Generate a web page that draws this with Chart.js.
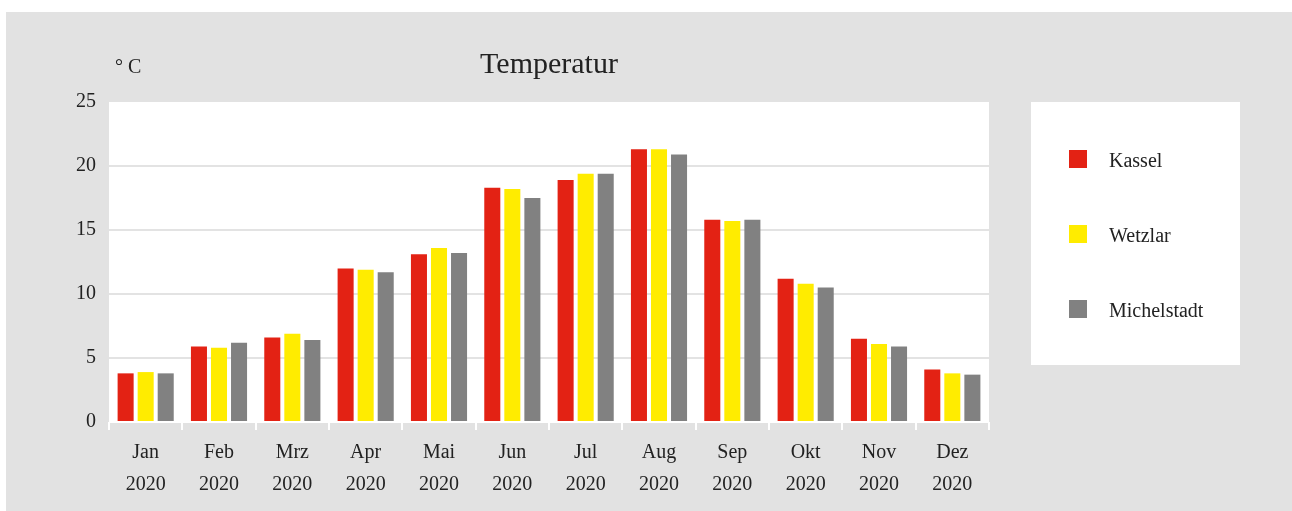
<!DOCTYPE html>
<html>
<head>
<meta charset="utf-8">
<script src="https://cdn.jsdelivr.net/npm/chart.js@4/dist/chart.umd.min.js"></script>
<style>
    body { margin: 0; background: #ffffff; }
    #frame { position: absolute; left: 6px; top: 12px; width: 1286px; height: 499px; background: #e2e2e2; }
</style>
</head>
<body>
<div id="frame"><canvas id="myChart" width="1286" height="499"></canvas></div>
<script>
// Month labels (two lines each)
const months = ['Jan', 'Feb', 'Mrz', 'Apr', 'Mai', 'Jun', 'Jul', 'Aug', 'Sep', 'Okt', 'Nov', 'Dez'];
const year = '2020';

// Monthly mean temperatures in °C
const kassel      = [3.8, 5.9, 6.6, 12.0, 13.1, 18.3, 18.9, 21.3, 15.8, 11.2, 6.5, 4.1];
const wetzlar     = [3.9, 5.8, 6.9, 11.9, 13.6, 18.2, 19.4, 21.3, 15.7, 10.8, 6.1, 3.8];
const michelstadt = [3.8, 6.2, 6.4, 11.7, 13.2, 17.5, 19.4, 20.9, 15.8, 10.5, 5.9, 3.7];

const yTicks = [0, 5, 10, 15, 20, 25];

const textColor = '#222222';
const fontFamily = '"Liberation Serif", "DejaVu Serif", serif';

// white plot background + unit label
const plotBackground = {
    id: 'plotBackground',
    beforeDraw(chart) {
        const { ctx, chartArea } = chart;
        ctx.save();
        ctx.fillStyle = '#ffffff';
        ctx.fillRect(chartArea.left, chartArea.top, chartArea.right - chartArea.left, chartArea.bottom - chartArea.top + 1);
        ctx.fillStyle = textColor;
        ctx.font = '20px ' + fontFamily;
        ctx.textBaseline = 'alphabetic';
        ctx.textAlign = 'left';
        ctx.fillText('° C', 109, 61);
        ctx.restore();
    }
};

// legend in a white box on the right
const boxLegend = {
    id: 'boxLegend',
    afterDraw(chart) {
        const { ctx } = chart;
        ctx.save();
        ctx.fillStyle = '#ffffff';
        ctx.fillRect(1025, 90, 209, 263);
        ctx.font = '20px ' + fontFamily;
        ctx.textBaseline = 'middle';
        ctx.textAlign = 'left';
        chart.data.datasets.forEach((ds, i) => {
            const cy = 147 + i * 75;
            ctx.fillStyle = ds.backgroundColor;
            ctx.fillRect(1063, cy - 9, 18, 18);
            ctx.fillStyle = textColor;
            ctx.fillText(ds.label, 1103, cy + 3);
        });
        ctx.restore();
    }
};

let ctx = document.getElementById('myChart').getContext('2d');

let chart = new Chart(ctx, {
    type: 'bar',
    data: {
        labels: months.map(m => [m, year]),
        datasets: [
            { label: 'Kassel', backgroundColor: 'rgb(227,34,20)', data: kassel },
            { label: 'Wetzlar', backgroundColor: 'rgb(255,236,0)', data: wetzlar },
            { label: 'Michelstadt', backgroundColor: 'rgb(129,129,129)', data: michelstadt }
        ]
    },
    options: {
        responsive: false,
        animation: false,
        devicePixelRatio: 1,
        layout: { padding: { top: 0, right: 303, bottom: 0, left: 0 } },
        datasets: {
            bar: { categoryPercentage: 0.82, barPercentage: 0.8 }
        },
        plugins: {
            legend: { display: false },
            tooltip: { enabled: false },
            title: {
                display: true,
                text: 'Temperatur',
                fullSize: false,
                color: textColor,
                font: { family: fontFamily, size: 30, weight: 'normal', lineHeight: 1.2 },
                padding: { top: 35, bottom: 19 }
            }
        },
        scales: {
            x: {
                grid: {
                    display: true,
                    drawOnChartArea: false,
                    drawTicks: true,
                    tickLength: 8,
                    color: '#ffffff',
                    lineWidth: 2
                },
                border: { display: false },
                ticks: {
                    color: textColor,
                    padding: 7,
                    maxRotation: 0,
                    font: { family: fontFamily, size: 20, lineHeight: 1.6 }
                },
                afterFit(scale) { scale.height = 89; }
            },
            y: {
                min: 0,
                max: 25,
                afterBuildTicks(scale) { scale.ticks = yTicks.map(v => ({ value: v })); },
                grid: {
                    drawTicks: false,
                    lineWidth: 2,
                    color: c => (c.tick.value === 0 || c.tick.value === 25) ? 'rgba(0,0,0,0)' : '#e3e3e3'
                },
                border: { display: false },
                ticks: {
                    color: textColor,
                    padding: 13,
                    font: { family: fontFamily, size: 20 }
                },
                afterFit(scale) { scale.width = 103; }
            }
        }
    },
    plugins: [plotBackground, boxLegend]
});
</script>
</body>
</html>
